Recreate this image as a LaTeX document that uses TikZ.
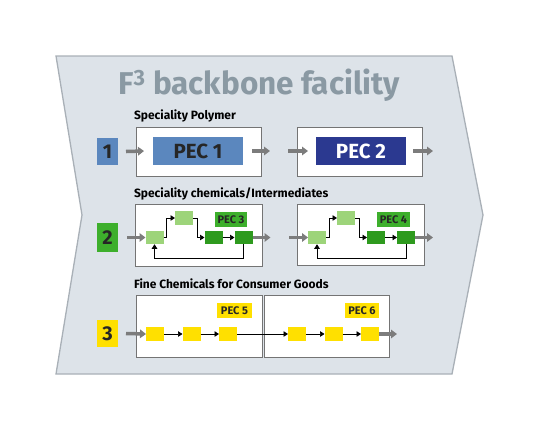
\documentclass[tikz,border=0pt]{standalone}
\usepackage{fontspec}
\setmainfont{Fira Sans}
\usetikzlibrary{arrows.meta, positioning}
\definecolor{panel}{HTML}{DDE3E9}
\definecolor{panelline}{HTML}{A9B0B7}
\definecolor{titlegray}{HTML}{8A99A3}
\definecolor{boxgray}{HTML}{747474}
\definecolor{flowgray}{HTML}{7C7C7C}
\definecolor{pecblue}{HTML}{5B87BE}
\definecolor{pecnavy}{HTML}{2B3990}
\definecolor{pecgreen}{HTML}{3DAF2C}
\definecolor{lightgreen}{HTML}{9DD47A}
\definecolor{darkgreen}{HTML}{2E9A1E}
\definecolor{pecyellow}{HTML}{FFE000}
\tikzset{
  every node/.style={inner sep=0pt, outer sep=0pt},
  node distance=18.5pt,
  stage/.style={draw=boxgray, fill=white, line width=0.8pt, minimum width=125pt},
  num/.style={minimum width=21pt, minimum height=27pt, text=black!85,
    font=\bfseries\fontsize{20}{20}\selectfont},
  pec/.style={minimum width=90pt, minimum height=28pt,
    font=\bfseries\fontsize{20.5}{21}\selectfont},
  tag/.style={minimum height=15pt, text=black!85,
    font=\bfseries\fontsize{11}{12}\selectfont},
  unit/.style={minimum width=18pt, minimum height=13.5pt},
  caption/.style={anchor=west, font=\bfseries\fontsize{12}{13}\selectfont},
  flow/.style={line width=3.5pt, draw=flowgray, -{Triangle[length=6pt, width=8.5pt]}},
  link/.style={line width=0.7pt, -{Triangle[length=4.5pt, width=5.5pt]}},
}

\begin{document}
\begin{tikzpicture}[x=1pt, y=-1pt]
  \useasboundingbox (0,0) rectangle (540,432);
  % chevron panel
  \draw[fill=panel, draw=panelline, line width=1.3pt]
    (56,56) -- (452,56) -- (483,215) -- (452,374) -- (56,374) -- (82,215) -- cycle;
  \node[text=titlegray, font=\bfseries\fontsize{31.5}{33}\selectfont] (title) at (259,85)
    {F\textsuperscript{3} backbone facility};

  % line 1
  \node[caption] (cap1) at (134,116) {Speciality Polymer};
  \node[num, fill=pecblue] (num1) at (107.5,151.5) {1};
  \node[stage, minimum height=49pt] (box1a) at (198.5,151.5) {};
  \node[stage, minimum height=49pt] (box1b) at (360,151.5) {};
  \node[pec, fill=pecblue, text=black!85] (pec1) at (198,151) {PEC 1};
  \node[pec, fill=pecnavy, text=white] (pec2) at (361,151) {PEC 2};
  \draw[flow] ([xshift=8pt]num1.east) -- ([xshift=-9pt]pec1.west);
  \draw[flow] ([xshift=9pt]pec1.east) -- ([xshift=27pt]pec1.east);
  \draw[flow] ([xshift=-28pt]pec2.west) -- ([xshift=-8pt]pec2.west);
  \draw[flow] ([xshift=7pt]pec2.east) -- ([xshift=27pt]pec2.east);

  % line 2
  \node[caption] (cap2) at (134,194) {Speciality chemicals/Intermediates};
  \node[num, fill=pecgreen, minimum height=29pt] (num2) at (107.5,237.5) {2};
  \node[stage, minimum width=127pt, minimum height=62pt] (box2a) at (198.5,235) {};
  \node[stage, minimum width=127pt, minimum height=61pt] (box2b) at (360.5,234.5) {};

  \node[unit, fill=lightgreen] (a2) at (154.5,237.5) {};
  \node[unit, fill=lightgreen] (b2) at (184,218) {};
  \node[unit, fill=darkgreen, right=41pt of a2] (c2) {};
  \node[unit, fill=darkgreen, right=12pt of c2] (d2) {};
  \node[tag, fill=pecgreen, minimum width=32pt] (pec3) at (231,219.5) {PEC 3};
  \draw[link] (a2.east) -- ++(3,0) |- (b2.west);
  \draw[link] (b2.east) -- ++(4,0) |- (c2.west);
  \draw[link] (c2) -- (d2);
  \draw[link] (d2.south) -- ++(0,14) -| (a2.south);
  \draw[flow] ([xshift=9pt]num2.east) -- (a2.west);
  \draw[flow] (d2.east) -- ++(18,0);

  \node[unit, fill=lightgreen] (a3) at (317,237.5) {};
  \node[unit, fill=lightgreen] (b3) at (346,218) {};
  \node[unit, fill=darkgreen, right=41pt of a3] (c3) {};
  \node[unit, fill=darkgreen, right=12pt of c3] (d3) {};
  \node[tag, fill=pecgreen, minimum width=33pt] (pec4) at (393.5,219.5) {PEC 4};
  \draw[link] (a3.east) -- ++(3,0) |- (b3.west);
  \draw[link] (b3.east) -- ++(4,0) |- (c3.west);
  \draw[link] (c3) -- (d3);
  \draw[link] (d3.south) -- ++(0,14) -| (a3.south);
  \draw[flow] ([xshift=-19pt]a3.west) -- (a3.west);
  \draw[flow] (d3.east) -- ++(18,0);

  % line 3
  \node[caption] (cap3) at (134,284) {Fine Chemicals for Consumer Goods};
  \node[num, fill=pecyellow] (num3) at (107.5,333.5) {3};
  \node[stage, minimum width=126pt, minimum height=62pt] (box3a) at (199,326) {};
  \node[stage, minimum width=125pt, minimum height=62pt] (box3b) at (326.5,326) {};

  \node[unit, fill=pecyellow, minimum height=14pt] (y1) at (155,334) {};
  \node[unit, fill=pecyellow, minimum height=14pt, right=of y1] (y2) {};
  \node[unit, fill=pecyellow, minimum height=14pt, right=of y2] (y3) {};
  \node[unit, fill=pecyellow, minimum height=14pt, right=51pt of y3] (y4) {};
  \node[unit, fill=pecyellow, minimum height=14pt, right=of y4] (y5) {};
  \node[unit, fill=pecyellow, minimum height=14pt, right=of y5] (y6) {};
  \node[tag, fill=pecyellow, minimum width=35pt] (pec5) at (234.5,310.5) {PEC 5};
  \node[tag, fill=pecyellow, minimum width=34pt] (pec6) at (362,310.5) {PEC 6};
  \draw[link] (y1) -- (y2);
  \draw[link] (y2) -- (y3);
  \draw[link] (y3) -- (y4);
  \draw[link] (y4) -- (y5);
  \draw[link] (y5) -- (y6);
  \draw[flow] ([xshift=8pt]num3.east) -- (y1.west);
  \draw[flow] (y6.east) -- ++(18,0);
\end{tikzpicture}
\end{document}
